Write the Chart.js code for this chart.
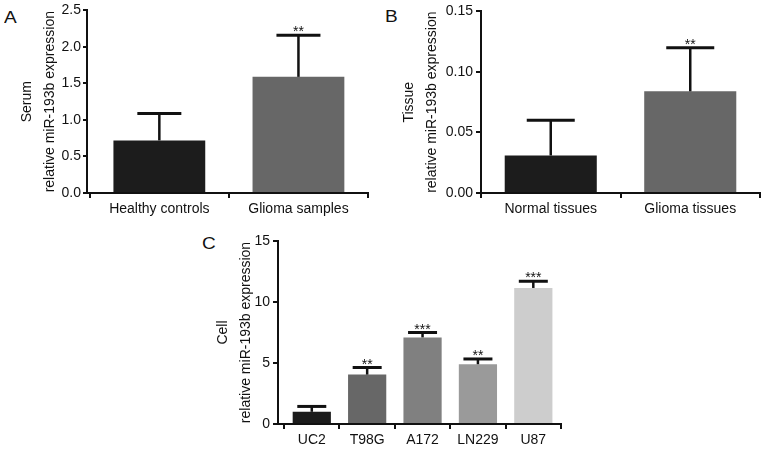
<!DOCTYPE html>
<html>
<head>
<meta charset="utf-8">
<script src="https://cdn.jsdelivr.net/npm/chart.js@4/dist/chart.umd.min.js"></script>
<style>
  html, body { margin: 0; padding: 0; background: #fff; }
  body { width: 765px; height: 450px; position: relative; overflow: hidden; font-family: "Liberation Sans", Arial, sans-serif; }
  .panel { position: absolute; }
  .tag { position: absolute; font-size: 17px; line-height: 17px; color: #111; transform: scaleX(1.12); transform-origin: left top; }
</style>
</head>
<body>
<div class="tag" style="left:4px;top:9px;">A</div>
<div class="tag" style="left:385px;top:8px;">B</div>
<div class="tag" style="left:202px;top:235px;">C</div>
<div class="panel" style="left:0px;top:0px;"><canvas id="cA" width="380" height="225"></canvas></div>
<div class="panel" style="left:380px;top:0px;"><canvas id="cB" width="385" height="225"></canvas></div>
<div class="panel" style="left:180px;top:225px;"><canvas id="cC" width="400" height="225"></canvas></div>
<script>
// ---- Panel A: serum ----
const catsA = ['Healthy controls', 'Glioma samples'];
const meanA = [0.72, 1.59];
const sdA = [0.37, 0.57];
const sigA = ['', '**'];
const yTicksA = [0, 0.5, 1.0, 1.5, 2.0, 2.5];
const yLabelsA = ['0.0', '0.5', '1.0', '1.5', '2.0', '2.5'];
const titleA = ['Serum', 'relative miR-193b expression'];

// ---- Panel B: tissue ----
const catsB = ['Normal tissues', 'Glioma tissues'];
const meanB = [0.031, 0.084];
const sdB = [0.029, 0.036];
const sigB = ['', '**'];
const yTicksB = [0, 0.05, 0.10, 0.15];
const yLabelsB = ['0.00', '0.05', '0.10', '0.15'];
const titleB = ['Tissue', 'relative miR-193b expression'];

// ---- Panel C: cell lines ----
const catsC = ['UC2', 'T98G', 'A172', 'LN229', 'U87'];
const meanC = [1.0, 4.05, 7.1, 4.9, 11.15];
const sdC = [0.44, 0.58, 0.40, 0.43, 0.55];
const sigC = ['', '**', '***', '**', '***'];
const yTicksC = [0, 5, 10, 15];
const yLabelsC = ['0', '5', '10', '15'];
const titleC = ['Cell', 'relative miR-193b expression'];

const colorsAB = ['#1c1c1c', '#676767'];
const colorsC = ['#1c1c1c', '#676767', '#808080', '#9a9a9a', '#cdcdcd'];

const FONT = '"Liberation Sans", Arial, Helvetica, sans-serif';
const INK = '#111111';

const errorBarPlugin = {
  id: 'errorBars',
  afterDatasetsDraw(chart, args, opts) {
    const ctx = chart.ctx;
    const meta = chart.getDatasetMeta(0);
    const ys = chart.scales.y;
    ctx.save();
    ctx.strokeStyle = INK;
    ctx.fillStyle = INK;
    meta.data.forEach((bar, i) => {
      const m = opts.means[i], s = opts.sds[i];
      const yTop = ys.getPixelForValue(m + s);
      const yBar = ys.getPixelForValue(m);
      ctx.lineWidth = opts.stemWidth;
      ctx.beginPath();
      ctx.moveTo(bar.x, yBar);
      ctx.lineTo(bar.x, yTop);
      ctx.stroke();
      ctx.lineWidth = opts.capWidth;
      ctx.beginPath();
      ctx.moveTo(bar.x - opts.capHalf, yTop);
      ctx.lineTo(bar.x + opts.capHalf, yTop);
      ctx.stroke();
      if (opts.sigs[i]) {
        ctx.font = '14px ' + FONT;
        ctx.textAlign = 'center';
        ctx.textBaseline = 'alphabetic';
        ctx.fillText(opts.sigs[i], bar.x, yTop + 1);
      }
    });
    ctx.restore();
  }
};

function makePanel(id, cats, means, sds, sigs, colors, yTicks, yLabels, title, g) {
  const data = cats.map((c, i) => ({ x: i, y: means[i] }));
  return new Chart(document.getElementById(id), {
    type: 'bar',
    data: {
      datasets: [{
        data: data,
        backgroundColor: colors,
        borderWidth: 0,
        barPercentage: g.barPct,
        categoryPercentage: 1.0
      }]
    },
    plugins: [errorBarPlugin],
    options: {
      responsive: false,
      animation: false,
      devicePixelRatio: 1,
      layout: { padding: { top: g.top, right: g.right, left: 0, bottom: 0 } },
      plugins: {
        legend: { display: false },
        tooltip: { enabled: false },
        errorBars: { means: means, sds: sds, sigs: sigs, capHalf: g.capHalf, stemWidth: 2.5, capWidth: 3 }
      },
      scales: {
        x: {
          type: 'linear',
          offset: false,
          min: g.xmin,
          max: g.xmax,
          afterBuildTicks: (s) => { s.ticks = cats.map((c, i) => ({ value: i })); },
          afterFit: (s) => { s.height = g.xh; },
          ticks: {
            callback: (v, i) => cats[i],
            color: INK,
            font: { family: FONT, size: 14 },
            padding: 3,
            maxRotation: 0,
            autoSkip: false
          },
          grid: { display: true, drawOnChartArea: false, drawTicks: true, tickLength: 5, color: INK, lineWidth: 2 },
          border: { display: true, color: INK, width: 2 }
        },
        y: {
          type: 'linear',
          min: yTicks[0],
          max: yTicks[yTicks.length - 1],
          afterBuildTicks: (s) => { s.ticks = yTicks.map(v => ({ value: v })); },
          afterFit: (s) => { s.width = g.yw; },
          ticks: {
            callback: (v, i) => yLabels[i],
            color: INK,
            font: { family: FONT, size: 14 },
            padding: g.ypad
          },
          grid: { display: true, drawOnChartArea: false, drawTicks: true, tickLength: g.ytl, color: INK, lineWidth: 2 },
          border: { display: true, color: INK, width: 2 },
          title: {
            display: true,
            text: title,
            color: INK,
            font: { family: FONT, size: 14, lineHeight: 23 / 14 },
            padding: { top: g.tpad, bottom: 0 }
          }
        }
      }
    }
  });
}

makePanel('cA', catsA, meanA, sdA, sigA, colorsAB, yTicksA, yLabelsA, titleA,
  { top: 10, right: 12, yw: 87, xh: 32, xmin: -0.52, xmax: 1.5, barPct: 0.66, capHalf: 22, ypad: 2, ytl: 4, tpad: 15.5 });
makePanel('cB', catsB, meanB, sdB, sigB, colorsAB, yTicksB, yLabelsB, titleB,
  { top: 10, right: 5, yw: 101, xh: 32, xmin: -0.5, xmax: 1.5, barPct: 0.66, capHalf: 24, ypad: 3, ytl: 5, tpad: 17.5 });
makePanel('cC', catsC, meanC, sdC, sigC, colorsC, yTicksC, yLabelsC, titleC,
  { top: 16, right: 19, yw: 98, xh: 26, xmin: -0.61, xmax: 4.5, barPct: 0.69, capHalf: 14.5, ypad: 3, ytl: 5, tpad: 31.5 });
</script>
</body>
</html>
